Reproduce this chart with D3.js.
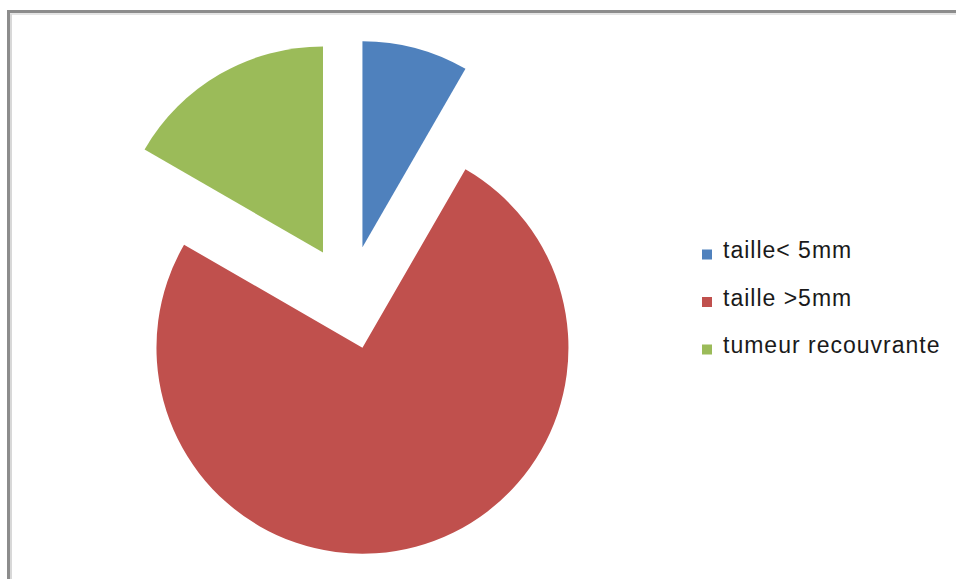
<!DOCTYPE html>
<html>
<head>
<meta charset="utf-8">
<script src="https://cdn.jsdelivr.net/npm/d3@7"></script>
<style>
  body { margin: 0; background: #fff; }
  svg { display: block; }
</style>
</head>
<body>
<div class="chart"></div>
<script>
// Exploded pie : taille des tumeurs

var categories = ["taille< 5mm", "taille >5mm", "tumeur recouvrante"];
var values = [1, 9, 2];
var colors = ["#4F81BD", "#C0504D", "#9BBB59"];

var svgWidth = 956;
var svgHeight = 579;

var svg = d3.select(".chart")
    .append("svg")
    .attr("width", svgWidth)
    .attr("height", svgHeight);

// frame lines (top and left only, like the cropped original)
svg.append("line")
    .attr("x1", 7).attr("y1", 11.5).attr("x2", svgWidth).attr("y2", 11.5)
    .attr("stroke", "#8c8c8c").attr("stroke-width", 3);
svg.append("line")
    .attr("x1", 7).attr("y1", 14).attr("x2", svgWidth).attr("y2", 14)
    .attr("stroke", "#e4e4e4").attr("stroke-width", 2);
svg.append("line")
    .attr("x1", 8.5).attr("y1", 10).attr("x2", 8.5).attr("y2", svgHeight)
    .attr("stroke", "#8c8c8c").attr("stroke-width", 3);
svg.append("line")
    .attr("x1", 11).attr("y1", 14).attr("x2", 11).attr("y2", svgHeight)
    .attr("stroke", "#d8d8d8").attr("stroke-width", 2);

var radius = 206;
var explode = 52;

var pieGroup = svg.append("g")
    .attr("transform", "translate(349, 297.5)");

var pie = d3.pie()
    .sort(null)
    .value(d => d);

var arc = d3.arc()
    .innerRadius(0)
    .outerRadius(radius);

pieGroup.selectAll("path")
    .data(pie(values))
    .enter()
    .append("path")
    .attr("d", arc)
    .attr("fill", (d, i) => colors[i])
    .attr("transform", function(d) {
        var mid = (d.startAngle + d.endAngle) / 2;
        return `translate(${Math.sin(mid) * explode}, ${-Math.cos(mid) * explode})`;
    });

// legend
var legend = svg.append("g")
    .attr("transform", "translate(702, 258)");

var rows = legend.selectAll("g")
    .data(categories)
    .enter()
    .append("g")
    .attr("transform", (d, i) => `translate(0, ${i * 47.5})`);

rows.append("rect")
    .attr("x", 0)
    .attr("y", -8.5)
    .attr("width", 10)
    .attr("height", 10)
    .attr("fill", (d, i) => colors[i]);

rows.append("text")
    .attr("x", 21)
    .attr("y", 0)
    .attr("font-family", "Liberation Sans, Arial, sans-serif")
    .attr("font-size", "23px")
    .attr("letter-spacing", "1px")
    .attr("fill", "#1a1a1a")
    .text(d => d);
</script>
</body>
</html>
